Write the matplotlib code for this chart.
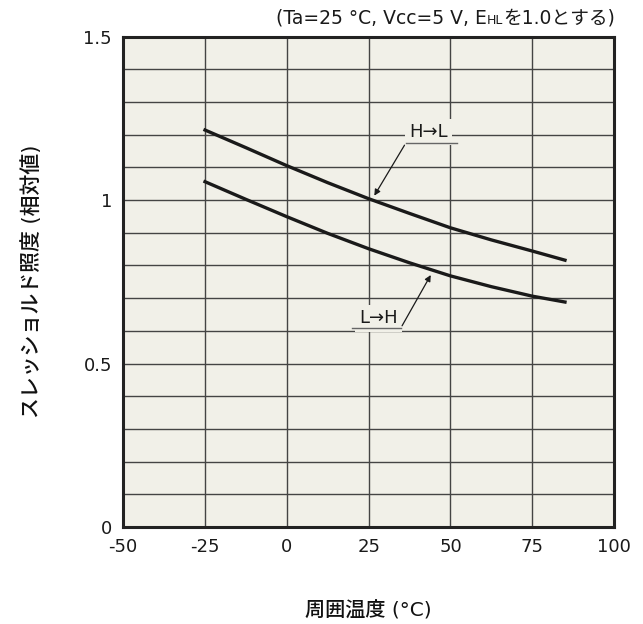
import matplotlib
matplotlib.use('Agg')
import matplotlib.pyplot as plt

plt.rcParams['font.family'] = ['DejaVu Sans', 'Noto Sans CJK JP']

# Data
temp = [-25, -12.5, 0, 12.5, 25, 37.5, 50, 62.5, 75, 85]
h_to_l = [1.214, 1.160, 1.105, 1.053, 1.004, 0.959, 0.915, 0.878, 0.844, 0.816]
l_to_h = [1.056, 1.002, 0.949, 0.898, 0.851, 0.808, 0.768, 0.735, 0.706, 0.688]

x_ticks = [-50, -25, 0, 25, 50, 75, 100]
y_ticks = [0, 0.5, 1, 1.5]
y_tick_labels = ['0', '0.5', '1', '1.5']

bg = '#f1f0e8'
ink = '#1a1a1a'

fig = plt.figure(figsize=(6.43, 6.24), dpi=100)
ax = fig.add_axes([0.1916, 0.1554, 0.7634, 0.7861])
ax.set_facecolor(bg)

ax.set_xlim(-50, 100)
ax.set_ylim(0, 1.5)

# grid
for gx in x_ticks[1:-1]:
    ax.axvline(gx, color='#444444', lw=1.0, zorder=1)
for i in range(1, 15):
    ax.axhline(i * 0.1, color='#444444', lw=1.0, zorder=1)

ax.plot(temp, h_to_l, color=ink, lw=2.4, zorder=3)
ax.plot(temp, l_to_h, color=ink, lw=2.4, zorder=3)

# labels with leader lines
ax.text(43.2, 1.209, 'H→L', fontsize=13, ha='center', va='center', color=ink, zorder=4,
        bbox=dict(facecolor=bg, edgecolor='none', pad=3))
ax.plot([36.4, 51.9], [1.175, 1.175], color='#666666', lw=1.0, zorder=4)
ax.annotate('', xy=(26.3, 1.006), xytext=(36.4, 1.175), zorder=4,
            arrowprops=dict(arrowstyle='-|>', color=ink, lw=0.9, mutation_scale=9))

ax.text(28.0, 0.638, 'L→H', fontsize=13, ha='center', va='center', color=ink, zorder=4,
        bbox=dict(facecolor=bg, edgecolor='none', pad=3))
ax.plot([19.8, 34.8], [0.608, 0.608], color='#666666', lw=1.0, zorder=4)
ax.annotate('', xy=(44.4, 0.778), xytext=(34.8, 0.608), zorder=4,
            arrowprops=dict(arrowstyle='-|>', color=ink, lw=0.9, mutation_scale=9))

ax.set_xticks(x_ticks)
ax.set_xticklabels([str(v) for v in x_ticks])
ax.set_yticks(y_ticks)
ax.set_yticklabels(y_tick_labels)
ax.tick_params(length=0, labelsize=13, colors=ink)
ax.tick_params(axis='x', pad=8)
ax.tick_params(axis='y', pad=8)
for s in ax.spines.values():
    s.set_linewidth(2.2)
    s.set_color('#222222')
    s.set_zorder(5)

ax.set_xlabel('周囲温度 (°C)', fontsize=14.5, color='#111111', labelpad=32, fontweight='medium')
ax.set_ylabel('スレッショルド照度 (相対値)', fontsize=15, color='#111111', labelpad=30, fontweight='medium')

# condition note, with small "HL" on the baseline
y_note = 0.962
parts = [('を1.0とする)', 13.5), ('HL', 9), ('(Ta=25 °C, Vcc=5 V, E', 13.5)]
x_right = 0.956
fig.canvas.draw()
for txt, size in parts:
    t = fig.text(x_right, y_note, txt, fontsize=size, ha='right', va='baseline', color=ink)
    fig.canvas.draw()
    bb = t.get_window_extent().transformed(fig.transFigure.inverted())
    x_right = bb.x0

fig.savefig('out.png', dpi=100, facecolor='white')
